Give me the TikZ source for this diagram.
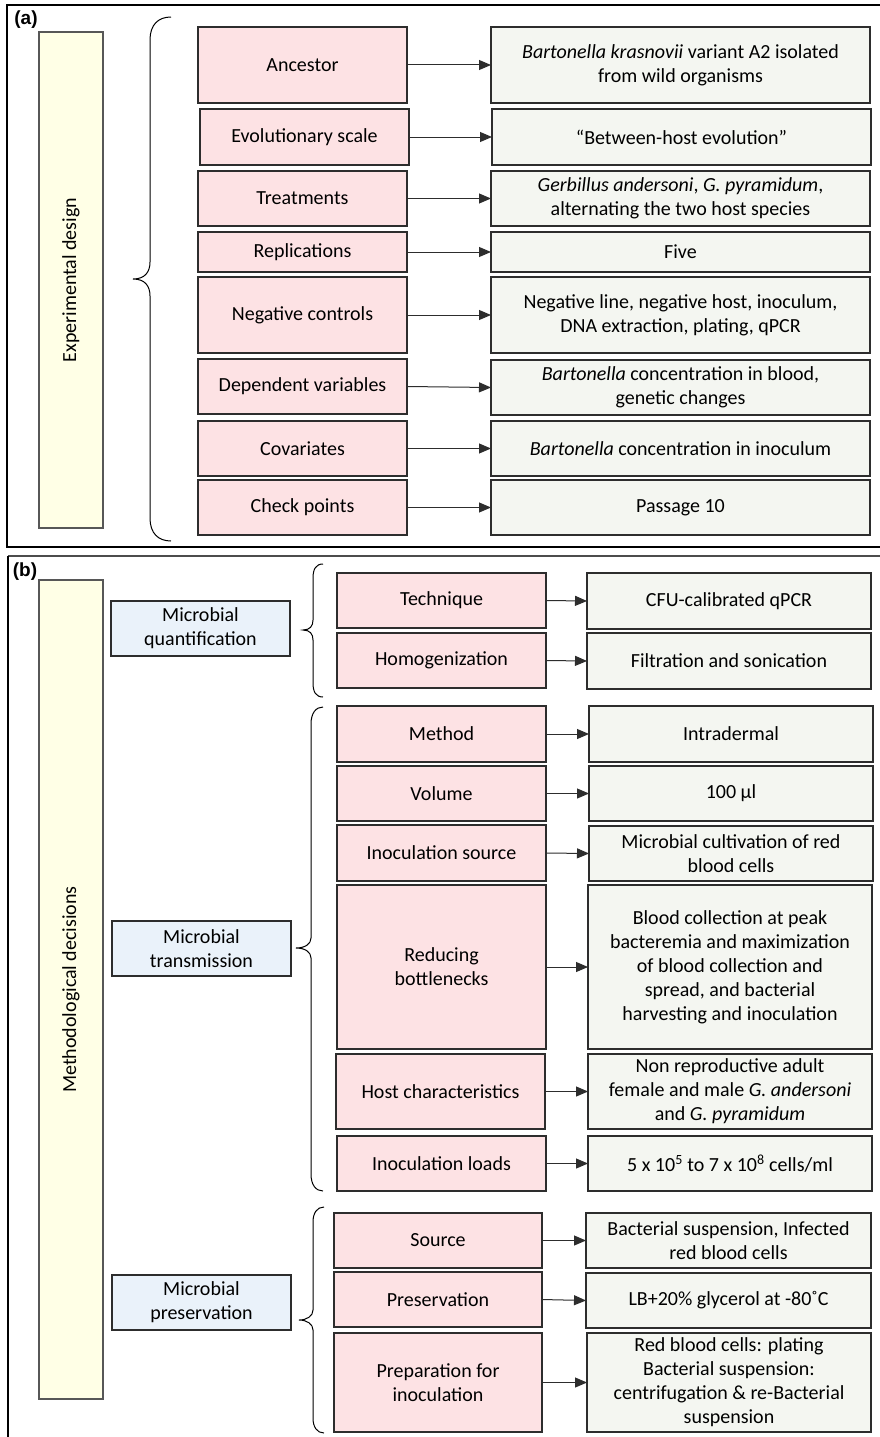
\documentclass[tikz,border=0pt]{standalone}
\usepackage{fontspec}
\setmainfont{Carlito}
\newfontfamily\labfont{Liberation Sans}
\usetikzlibrary{arrows.meta}
\definecolor{pinkf}{RGB}{253,226,228}
\definecolor{greenf}{RGB}{244,246,241}
\definecolor{yellowf}{RGB}{255,255,230}
\definecolor{bluef}{RGB}{234,242,250}
\definecolor{edgec}{RGB}{45,45,45}
\newcommand{\bx}[7]{\node[#1, anchor=north west, minimum width={(#5-#3)*1pt}, minimum height={(#6-#4)*1pt}] (#2) at (#3,#4) {#7};}
\begin{document}
\begin{tikzpicture}[x=1pt,y=-1pt,
  font=\fontsize{20}{24}\selectfont,
  base/.style={draw=edgec, line width=1.3pt, inner sep=2pt, outer sep=0pt, align=center},
  pinkbox/.style={base, fill=pinkf},
  greenbox/.style={base, fill=greenf},
  yellowbox/.style={base, fill=yellowf, draw=edgec!80},
  bluebox/.style={base, fill=bluef},
  arr/.style={draw=edgec, line width=1pt, -{Triangle[length=12pt,width=10pt]}},
  brace/.style={draw=black, line width=1pt},
  frame/.style={draw=black, line width=2.2pt},
  panel/.style={inner sep=0pt, font=\labfont\bfseries\fontsize{19}{21}\selectfont},
  vlabel/.style={rotate=90}]
\useasboundingbox (0,0) rectangle (880,1437);
\fill[white] (0,0) rectangle (880,1437);
% frames
\draw[frame] (886,5) -- (7,5) -- (7,547) -- (886,547);
\draw[draw=black!70, line width=1.6pt] (886,556) -- (8,556);
\draw[frame] (8,556) -- (8,1440);
\node[panel] (pa) at (26,20) {(a)};
\node[panel] (pb) at (25,572) {(b)};
% ---------- panel (a)
\bx{yellowbox}{ed}{39}{32}{103}{528}{}
\node[vlabel] (edl) at (ed.center) {Experimental design};
\draw[brace] (171,17) .. controls (158,17) and (150,25) .. (150,40) -- (150,262) .. controls (150,272) and (145,279) .. (133,279) .. controls (145,279) and (150,286) .. (150,296) -- (150,518) .. controls (150,533) and (158,541) .. (171,541);
\bx{pinkbox}{p1}{198}{27}{407}{103}{Ancestor}
\bx{pinkbox}{p2}{200}{109}{409}{165}{Evolutionary scale}
\bx{pinkbox}{p3}{198}{171}{407}{226}{Treatments}
\bx{pinkbox}{p4}{198}{232}{407}{272}{Replications}
\bx{pinkbox}{p5}{198}{277}{407}{353}{Negative controls}
\bx{pinkbox}{p6}{198}{359}{407}{414}{Dependent variables}
\bx{pinkbox}{p7}{198}{421}{407}{476}{Covariates}
\bx{pinkbox}{p8}{198}{480}{407}{535}{Check points}
\bx{greenbox}{g1}{491}{27}{870}{103}{\textit{Bartonella krasnovii} variant A2 isolated\\from wild organisms}
\bx{greenbox}{g2}{492}{109}{871}{165}{“Between-host evolution”}
\bx{greenbox}{g3}{491}{171}{870}{226}{\textit{Gerbillus andersoni}, \textit{G. pyramidum},\\alternating the two host species}
\bx{greenbox}{g4}{491}{232}{870}{272}{Five}
\bx{greenbox}{g5}{491}{277}{870}{353}{Negative line, negative host, inoculum,\\DNA extraction, plating, qPCR}
\bx{greenbox}{g6}{491}{360}{870}{415}{\textit{Bartonella} concentration in blood,\\genetic changes}
\bx{greenbox}{g7}{491}{421}{870}{476}{\textit{Bartonella} concentration in inoculum}
\bx{greenbox}{g8}{491}{480}{870}{535}{Passage 10}
\foreach \i in {1,...,8} {\draw[arr] (p\i.east) -- (g\i.west);}
% ---------- panel (b)
\bx{yellowbox}{md}{39}{580}{103}{1399}{}
\node[vlabel] (mdl) at (md.center) {Methodological decisions};
\bx{bluebox}{q}{111}{601}{290}{656}{Microbial\\quantification}
\bx{bluebox}{t}{112}{921}{291}{976}{Microbial\\transmission}
\bx{bluebox}{s}{112}{1275}{291}{1330}{Microbial\\preservation}
% braces
\draw[brace] (323,564) .. controls (316,564) and (313,569) .. (313,578) -- (313,620) .. controls (313,626) and (310,630) .. (303,630) .. controls (310,630) and (313,634) .. (313,640) -- (313,683) .. controls (313,692) and (316,697) .. (323,697);
\draw[brace] (323,707) .. controls (316,707) and (311,713) .. (311,724) -- (311,938) .. controls (311,944) and (305,948) .. (296,948) .. controls (305,948) and (311,952) .. (311,958) -- (311,1174) .. controls (311,1185) and (316,1191) .. (323,1191);
\draw[brace] (324,1207) .. controls (317,1207) and (313,1213) .. (313,1222) -- (313,1310) .. controls (313,1316) and (307,1320) .. (299,1320) .. controls (307,1320) and (313,1324) .. (313,1330) -- (313,1418) .. controls (313,1427) and (317,1433) .. (324,1433);
\bx{pinkbox}{r1}{337}{573}{546}{628}{Technique}
\bx{pinkbox}{r2}{337}{633}{546}{688}{Homogenization}
\bx{pinkbox}{r3}{337}{706}{546}{762}{Method}
\bx{pinkbox}{r4}{337}{766}{546}{821}{Volume}
\bx{pinkbox}{r5}{337}{825}{546}{881}{Inoculation source}
\bx{pinkbox}{r6}{337}{885}{546}{1049}{Reducing\\bottlenecks}
\bx{pinkbox}{r7}{336}{1054}{545}{1129}{Host characteristics}
\bx{pinkbox}{r8}{337}{1136}{546}{1191}{Inoculation loads}
\bx{pinkbox}{r9}{334}{1213}{542}{1268}{Source}
\bx{pinkbox}{r10}{334}{1272}{542}{1327}{Preservation}
\bx{pinkbox}{r11}{334}{1333}{542}{1432}{Preparation for\\inoculation}
\bx{greenbox}{h1}{587}{573}{871}{629}{CFU-calibrated qPCR}
\bx{greenbox}{h2}{587}{633}{871}{689}{Filtration and sonication}
\bx{greenbox}{h3}{589}{706}{873}{762}{Intradermal}
\bx{greenbox}{h4}{589}{766}{873}{821}{100 µl}
\bx{greenbox}{h5}{589}{826}{873}{881}{Microbial cultivation of red\\blood cells}
\bx{greenbox}{h6}{588}{885}{872}{1049}{Blood collection at peak\\bacteremia and maximization\\of blood collection and\\spread, and bacterial\\harvesting and inoculation}
\bx{greenbox}{h7}{588}{1054}{872}{1129}{Non reproductive adult\\female and male \textit{G. andersoni}\\and \textit{G. pyramidum}}
\bx{greenbox}{h8}{588}{1136}{872}{1191}{5 x 10\textsuperscript{5} to 7 x 10\textsuperscript{8} cells/ml}
\bx{greenbox}{h9}{586}{1213}{871}{1268}{Bacterial suspension, Infected\\red blood cells}
\bx{greenbox}{h10}{586}{1273}{871}{1328}{LB+20\% glycerol at -80˚C}
\bx{greenbox}{h11}{587}{1333}{871}{1432}{Red blood cells: plating\\Bacterial suspension:\\centrifugation \& re-Bacterial\\suspension}
\foreach \i in {1,...,11} {\draw[arr] (r\i.east) -- (h\i.west);}
\end{tikzpicture}
\end{document}
